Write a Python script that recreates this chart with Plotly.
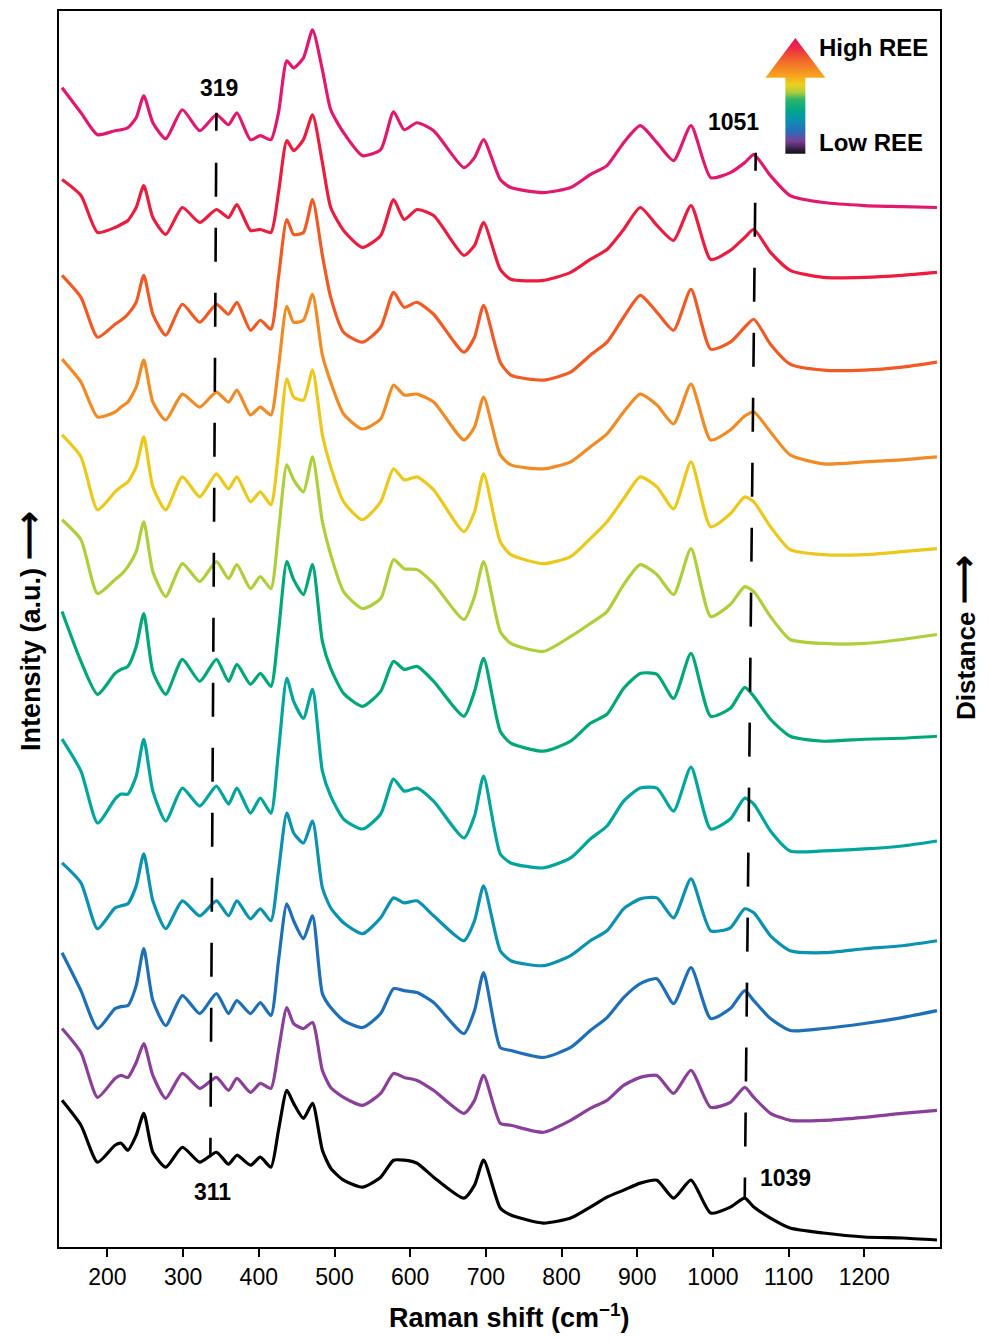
import plotly.graph_objects as go

# Raman shift sampling positions (cm-1)
WN = [140, 165, 187, 210, 218, 227, 238, 248, 260, 277,
      299, 322, 344, 360, 371, 389, 402, 416, 426, 437,
      446, 459, 471, 484, 495, 512, 537, 561, 578, 592,
      609, 631, 671, 685, 697, 719, 733, 776, 812, 838,
      860, 882, 904, 926, 948, 971, 997, 1023, 1042, 1054,
      1076, 1102, 1146, 1200, 1250, 1296]

# Readings of each stacked spectrum measured downward from the top of the stack
# (intensity offset = TOP - reading), top spectrum (high REE) first.
TOP = 1247
S1 = [85, 110, 132, 128, 127, 125, 115, 93, 120, 136, 107, 128, 112, 122, 110, 137, 133, 137, 110, 58,
      65, 55, 27, 67, 107, 130, 153, 147, 109, 127, 120, 128, 165, 155, 137, 177, 185, 190, 185, 172,
      163, 140, 123, 140, 158, 123, 175, 170, 160, 152, 173, 193, 200, 203, 204, 205]
S2 = [177, 193, 230, 225, 222, 218, 205, 183, 215, 232, 205, 220, 207, 215, 202, 228, 227, 230, 190, 138,
      148, 137, 112, 160, 205, 228, 245, 233, 197, 217, 207, 213, 253, 243, 220, 267, 277, 278, 270, 257,
      247, 227, 205, 223, 238, 203, 257, 248, 235, 227, 250, 268, 275, 275, 273, 270]
S3 = [273, 295, 335, 322, 318, 312, 300, 273, 312, 333, 302, 320, 302, 312, 300, 328, 318, 327, 275, 217,
      232, 230, 197, 253, 295, 330, 340, 325, 290, 305, 300, 312, 350, 335, 303, 360, 373, 378, 370, 353,
      340, 315, 293, 310, 328, 287, 347, 340, 325, 317, 342, 362, 368, 368, 365, 360]
S4 = [357, 380, 415, 410, 405, 400, 385, 358, 400, 418, 392, 405, 390, 400, 388, 413, 405, 413, 365, 304,
      320, 318, 292, 353, 380, 412, 427, 417, 383, 393, 392, 400, 438, 425, 395, 453, 463, 467, 460, 445,
      432, 410, 392, 403, 422, 382, 438, 428, 414, 410, 430, 453, 462, 460, 458, 455]
S5 = [433, 455, 508, 490, 485, 480, 465, 435, 485, 508, 475, 495, 472, 487, 475, 500, 490, 503, 450, 377,
      395, 398, 368, 433, 465, 500, 518, 500, 467, 478, 475, 488, 530, 510, 472, 540, 553, 562, 555, 537,
      520, 497, 475, 485, 507, 460, 525, 512, 495, 500, 525, 548, 553, 553, 550, 547]
S6 = [518, 538, 592, 578, 573, 565, 550, 520, 570, 595, 562, 580, 560, 577, 563, 587, 575, 587, 530, 463,
      478, 490, 455, 520, 553, 590, 607, 597, 558, 567, 568, 582, 618, 595, 560, 630, 642, 650, 635, 622,
      610, 583, 563, 573, 593, 547, 615, 603, 585, 590, 615, 638, 642, 642, 638, 633]
S7 = [610, 660, 693, 672, 668, 665, 645, 612, 670, 693, 658, 680, 658, 680, 663, 683, 672, 685, 630, 560,
      578, 593, 563, 640, 667, 692, 705, 690, 660, 668, 665, 680, 715, 690, 657, 730, 742, 750, 740, 722,
      713, 687, 672, 673, 697, 652, 715, 707, 686, 695, 718, 735, 740, 738, 737, 735]
S8 = [738, 770, 822, 798, 793, 793, 775, 738, 790, 820, 787, 805, 785, 803, 787, 812, 797, 812, 750, 677,
      700, 717, 688, 770, 795, 818, 828, 813, 778, 790, 787, 800, 837, 815, 775, 853, 862, 867, 857, 838,
      825, 800, 787, 787, 810, 766, 828, 818, 797, 803, 830, 850, 850, 848, 845, 840]
S9 = [862, 882, 928, 907, 905, 903, 885, 853, 900, 928, 900, 915, 900, 915, 900, 918, 908, 920, 870, 812,
      832, 842, 820, 887, 907, 922, 933, 917, 897, 902, 900, 915, 940, 920, 885, 950, 960, 965, 955, 940,
      930, 908, 898, 897, 917, 878, 930, 927, 908, 912, 935, 950, 952, 948, 945, 940]
S10 = [952, 990, 1028, 1008, 1006, 1005, 985, 948, 1000, 1025, 995, 1013, 993, 1013, 1000, 1013, 1002, 1015, 960, 903,
       920, 938, 915, 993, 1007, 1020, 1027, 1013, 988, 990, 992, 1002, 1033, 1010, 972, 1047, 1050, 1057, 1047, 1030,
       1017, 997, 983, 978, 1003, 967, 1018, 1008, 990, 1000, 1018, 1030, 1028, 1023, 1017, 1010]
S11 = [1028, 1052, 1097, 1078, 1075, 1077, 1062, 1043, 1075, 1098, 1073, 1088, 1077, 1090, 1078, 1092, 1083, 1088, 1050, 1007,
       1023, 1028, 1022, 1070, 1087, 1097, 1105, 1093, 1073, 1077, 1080, 1090, 1113, 1100, 1075, 1123, 1125, 1132, 1120, 1108,
       1100, 1085, 1077, 1075, 1093, 1070, 1107, 1102, 1087, 1097, 1113, 1120, 1120, 1117, 1113, 1110]
S12 = [1100, 1125, 1162, 1145, 1143, 1150, 1135, 1113, 1152, 1167, 1147, 1162, 1152, 1164, 1155, 1165, 1157, 1167, 1130, 1090,
       1103, 1118, 1103, 1150, 1168, 1180, 1187, 1177, 1160, 1160, 1163, 1177, 1198, 1185, 1160, 1208, 1215, 1223, 1218, 1207,
       1197, 1190, 1183, 1180, 1198, 1180, 1213, 1207, 1198, 1207, 1218, 1228, 1233, 1237, 1238, 1240]

SPECTRA = [S1, S2, S3, S4, S5, S6, S7, S8, S9, S10, S11, S12]
COLORS = ["#E2186F", "#EC1C3E", "#F15A24", "#F18B25", "#ECC81B", "#AECF39",
          "#00A878", "#00A59D", "#0A92B0", "#1E6FB7", "#8A3F98", "#000000"]

# Guide lines for the shifting bands (x in cm-1, y in stacked intensity)
GUIDE_LEFT_X = [344, 336]
GUIDE_LEFT_Y = [1137, 90]
GUIDE_RIGHT_X = [1056.5, 1042]
GUIDE_RIGHT_Y = [1097, 49]
PEAK_LABELS = [("319", 347, 1162), ("311", 339, 55), ("1051", 1027, 1128), ("1039", 1096, 69)]

XTICKS = [200, 300, 400, 500, 600, 700, 800, 900, 1000, 1100, 1200]

FONT = "Arial, Liberation Sans, sans-serif"

fig = go.Figure()

for s, c in zip(SPECTRA, COLORS):
    fig.add_trace(go.Scatter(x=WN, y=[TOP - v for v in s], mode="lines",
                             line=dict(color=c, width=3.2, shape="spline", smoothing=0.6),
                             showlegend=False, hoverinfo="skip"))

dash = "18px,32px," + ",".join(["34px,31px"] * 17)
for gx, gy in [(GUIDE_LEFT_X, GUIDE_LEFT_Y), (GUIDE_RIGHT_X, GUIDE_RIGHT_Y)]:
    fig.add_trace(go.Scatter(x=gx, y=gy, mode="lines",
                             line=dict(color="black", width=2.6, dash=dash),
                             showlegend=False, hoverinfo="skip"))

# gradient arrow (legend for REE content)
AX = [1095.7, 1122.1, 1122.1, 1148.5, 1108.9, 1069.3, 1095.7, 1095.7]
AY = [1096, 1096, 1172, 1172, 1212, 1172, 1172, 1096]
fig.add_trace(go.Scatter(
    x=AX, y=AY, mode="lines", fill="toself", line=dict(width=0, color="rgba(0,0,0,0)"),
    fillgradient=dict(type="vertical", start=1096, stop=1212,
                      colorscale=[[0.0, "#111111"], [0.05, "#3B2350"], [0.11, "#7A3F97"],
                                  [0.2, "#2370B8"], [0.3, "#0993AE"], [0.38, "#00A886"],
                                  [0.47, "#2EB46A"], [0.53, "#AECB3A"], [0.6, "#EED11C"],
                                  [0.67, "#F8A41F"], [0.8, "#F26A2A"], [0.92, "#EC2846"],
                                  [1.0, "#E5155E"]]),
    showlegend=False, hoverinfo="skip"))

# plot-area geometry on the page (the page body adds an 8 px offset)
PX_L, PX_R, PX_T, PX_B = 59, 940, 9, 1247


def px_to_paper(px, py):
    return (px - PX_L) / (PX_R - PX_L), (PX_B - py) / (PX_B - PX_T)


anns = []
for t, x, y in PEAK_LABELS:
    anns.append(dict(x=x, y=y, text=f"<b>{t}</b>", showarrow=False, xref="x", yref="y",
                     xanchor="center", yanchor="middle", font=dict(size=23, family=FONT, color="black")))
anns.append(dict(x=1138, y=1202, text="<b>High REE</b>", showarrow=False, xref="x", yref="y",
                 xanchor="left", yanchor="middle", font=dict(size=24, family=FONT, color="black")))
anns.append(dict(x=1138, y=1107, text="<b>Low REE</b>", showarrow=False, xref="x", yref="y",
                 xanchor="left", yanchor="middle", font=dict(size=24, family=FONT, color="black")))
ARROW = '<span style="font-size:34px">⟶</span>'
yx, yy = px_to_paper(28, 630)
anns.append(dict(x=yx, y=yy, xref="paper", yref="paper", text=f"<b>Intensity (a.u.) {ARROW}</b>",
                 textangle=-90, showarrow=False, xanchor="center", yanchor="middle",
                 font=dict(size=27, family=FONT, color="black")))
dx, dy = px_to_paper(963, 637)
anns.append(dict(x=dx, y=dy, xref="paper", yref="paper", text=f"<b>Distance {ARROW}</b>",
                 textangle=-90, showarrow=False, xanchor="center", yanchor="middle",
                 font=dict(size=26, family=FONT, color="black")))
tx, ty = px_to_paper(510, 1316)
anns.append(dict(x=tx, y=ty, xref="paper", yref="paper", text="<b>Raman shift (cm<sup>−1</sup>)</b>",
                 showarrow=False, xanchor="center", yanchor="middle",
                 font=dict(size=27, family=FONT, color="black")))

fig.update_layout(
    width=981, height=1332,
    margin=dict(l=PX_L - 8, r=981 - (PX_R - 8), t=PX_T - 8, b=1332 - (PX_B - 8), pad=0),
    paper_bgcolor="white", plot_bgcolor="white",
    annotations=anns,
    font=dict(family=FONT, color="black"),
)
fig.update_xaxes(range=[136, 1300], tickvals=XTICKS, ticks="outside", ticklen=8, tickwidth=2,
                 tickcolor="black", tickfont=dict(size=23, family=FONT, color="black"),
                 showline=True, linewidth=2.2, linecolor="black", mirror=True,
                 showgrid=False, zeroline=False)
fig.update_yaxes(range=[0, 1239], showticklabels=False, ticks="",
                 showline=True, linewidth=2.2, linecolor="black", mirror=True,
                 showgrid=False, zeroline=False)

fig.write_html("out.html")
